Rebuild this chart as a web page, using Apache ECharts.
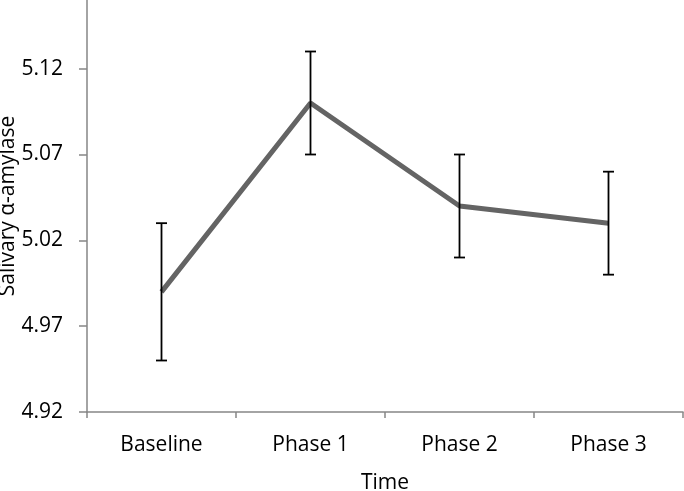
<!DOCTYPE html>
<html>
<head>
<meta charset="utf-8">
<script src="https://cdn.jsdelivr.net/npm/echarts@6/dist/echarts.min.js"></script>
<style>html,body{margin:0;padding:0;background:#fff}#c{width:684px;height:491px}</style>
</head>
<body>
<div id="c"></div>
<script>
var categories = ['Baseline', 'Phase 1', 'Phase 2', 'Phase 3'];
var means = [4.99, 5.10, 5.04, 5.03];
var errLow = [4.95, 5.07, 5.01, 5.00];
var errHigh = [5.03, 5.13, 5.07, 5.06];

var FONT = '"Open Sans", sans-serif';
var chart = echarts.init(document.getElementById('c'), null, {renderer: 'canvas'});
var errData = categories.map(function (c, i) { return [i, errLow[i], errHigh[i]]; });
chart.setOption({
  animation: false,
  grid: {left: 87, right: 1, top: 0, bottom: 79, containLabel: false, outerBoundsMode: 'none'},
  xAxis: {
    type: 'category',
    data: categories,
    boundaryGap: true,
    name: 'Time',
    nameLocation: 'middle',
    nameGap: 61,
    nameMoveOverlap: false,
    nameTextStyle: {fontFamily: FONT, fontSize: 21, color: '#000'},
    axisLine: {lineStyle: {color: '#868686', width: 1.5}},
    axisTick: {show: true, length: 6, alignWithLabel: false, lineStyle: {color: '#868686', width: 1.5}},
    axisLabel: {fontFamily: FONT, fontSize: 21, color: '#000', margin: 23},
    splitLine: {show: false}
  },
  yAxis: {
    type: 'value',
    min: 4.92,
    max: 5.16,
    interval: 0.05,
    name: 'Salivary α-amylase',
    nameLocation: 'middle',
    nameRotate: 90,
    nameGap: 68,
    nameMoveOverlap: false,
    nameTextStyle: {fontFamily: FONT, fontSize: 21, color: '#000'},
    axisLine: {show: true, lineStyle: {color: '#868686', width: 1.5}},
    axisTick: {show: true, length: 8, lineStyle: {color: '#868686', width: 1.5}},
    axisLabel: {
      fontFamily: FONT, fontSize: 21, color: '#000', margin: 24,
      showMaxLabel: false,
      formatter: function (v) { return v.toFixed(2); }
    },
    splitLine: {show: false}
  },
  series: [
    {
      type: 'line',
      data: means,
      symbol: 'none',
      lineStyle: {color: '#646464', width: 5},
      z: 2
    },
    {
      type: 'custom',
      data: errData,
      z: 3,
      renderItem: function (params, api) {
        var x = api.coord([api.value(0), api.value(1)])[0];
        var yl = api.coord([api.value(0), api.value(1)])[1];
        var yh = api.coord([api.value(0), api.value(2)])[1];
        var hw = 5.5;
        var st = {stroke: '#000', lineWidth: 1.8, fill: null};
        return {
          type: 'group',
          children: [
            {type: 'line', shape: {x1: x, y1: yl, x2: x, y2: yh}, style: st},
            {type: 'line', shape: {x1: x - hw, y1: yl, x2: x + hw, y2: yl}, style: st},
            {type: 'line', shape: {x1: x - hw, y1: yh, x2: x + hw, y2: yh}, style: st}
          ]
        };
      }
    }
  ]
});
</script>
</body>
</html>
